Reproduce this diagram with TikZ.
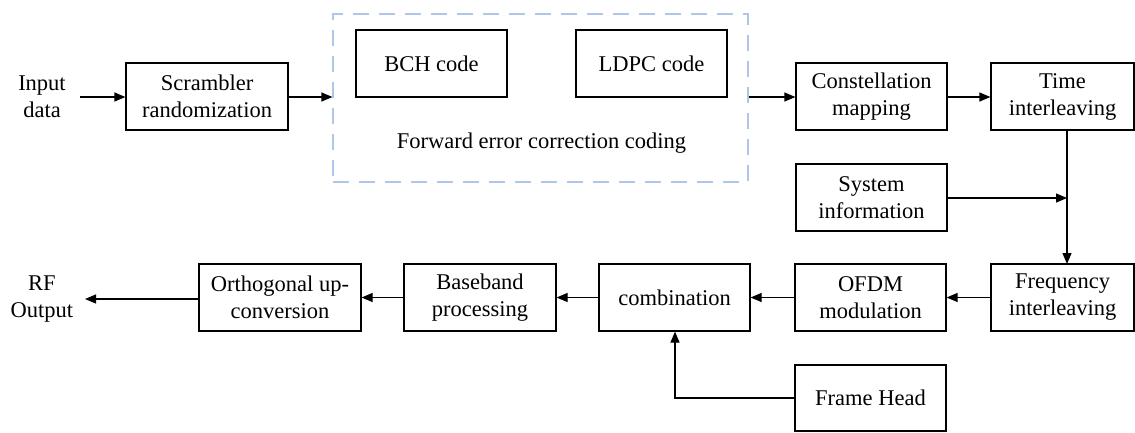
\documentclass[tikz,border=0pt]{standalone}
\usepackage{fontspec}
\setmainfont{Liberation Serif}
\usetikzlibrary{arrows.meta}
\definecolor{dashblue}{RGB}{176,198,232}
\tikzset{
  box/.style={draw=black, line width=1.2pt, rectangle, align=center, minimum height=67pt, inner sep=2pt,
    font=\fontsize{22.5}{27}\selectfont},
  lbl/.style={align=center, font=\fontsize{22.5}{27}\selectfont},
  arr/.style={line width=1.2pt, -{Triangle[length=11pt,width=9pt]}},
  ln/.style={line width=1.2pt},
  fecbox/.style={draw=dashblue, line width=1.2pt, dash pattern=on 16pt off 10pt}
}
\begin{document}
\begin{tikzpicture}[x=1pt,y=-1pt]
\useasboundingbox (0,0) rectangle (1135,432);
% nodes
\node[lbl] (in) at (42,97) {Input\\data};
\node[box, minimum width=162pt] (scr) at (207,96.5) {Scrambler\\randomization};
\node[fecbox, minimum width=415pt, minimum height=168pt, rectangle] (fec) at (540.5,98) {};
\node[box, minimum width=151pt] (bch) at (431.5,63.5) {BCH code};
\node[box, minimum width=151pt] (ldpc) at (651.5,63.5) {LDPC code};
\node[lbl] (fect) at (541.5,143) {Forward error correction coding};
\node[box, minimum width=151pt] (con) at (871.5,96.5) {Constellation\\mapping};
\node[box, minimum width=143pt] (time) at (1062.5,96.5) {Time\\interleaving};
\node[box, minimum width=151pt] (sys) at (871.5,197.5) {System\\information};
\node[box, minimum width=143pt] (freq) at (1062.5,297.5) {Frequency\\interleaving};
\node[box, minimum width=151pt] (ofdm) at (870.5,297.5) {OFDM\\modulation};
\node[box, minimum width=151pt] (comb) at (674.5,297.5) {combination};
\node[box, minimum width=152pt] (base) at (480,297.5) {Baseband\\processing};
\node[box, minimum width=162pt] (orth) at (280,297.5) {Orthogonal up-\\conversion};
\node[box, minimum width=151pt, minimum height=66pt] (frame) at (870.5,398) {Frame Head};
\node[lbl] (rf) at (42,299) {RF\\Output};
% coordinates
\coordinate (inA) at (80,97);
\coordinate (rfA) at (85,299);
\coordinate (tdown) at (1067,130.5);
\coordinate (fup) at (1067,264);
\coordinate (join) at (1067,198);
\coordinate (bend) at (675,398);
% connectors
\draw[arr] (inA) -- (scr.west |- inA);
\draw[arr] (scr.east |- inA) -- (fec.west |- inA);
\draw[arr] (fec.east |- inA) -- (con.west |- inA);
\draw[arr] (con.east |- inA) -- (time.west |- inA);
\draw[arr] (tdown) -- (fup);
\draw[arr] (sys.east |- join) -- (join);
\draw[arr] (freq.west) -- (ofdm.east);
\draw[arr] (ofdm.west) -- (comb.east);
\draw[arr] (comb.west) -- (base.east);
\draw[arr] (base.west) -- (orth.east);
\draw[arr] (orth.west |- rfA) -- (rfA);
\draw[arr] (frame.west) -- (bend) -- (comb.south -| bend);
\end{tikzpicture}
\end{document}
